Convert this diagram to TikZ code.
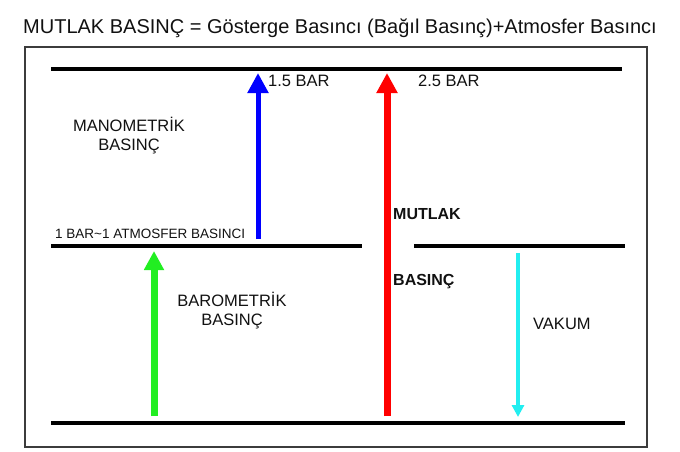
\documentclass[tikz,border=0pt]{standalone}
\usepackage{fontspec}
\setmainfont{Liberation Sans}
\usetikzlibrary{arrows.meta}
\definecolor{prsBlue}{HTML}{0000FF}
\definecolor{prsRed}{HTML}{FF0000}
\definecolor{prsGreen}{HTML}{22EE22}
\definecolor{prsCyan}{HTML}{22EEF0}
\definecolor{prsFrame}{HTML}{3C3C3C}
\definecolor{prsText}{HTML}{111111}

\begin{document}
\begin{tikzpicture}[
  x=1pt, y=-1pt,
  font=\fontsize{16}{19}\selectfont,
  text=prsText,
  frameBox/.style={draw=prsFrame, line width=1.2pt},
  level/.style={black, line width=4.5pt},
  lbl/.style={inner sep=0pt, font=\fontsize{16.5}{19}\selectfont},
  lblSmall/.style={inner sep=0pt, font=\fontsize{13.5}{15}\selectfont},
  lblBold/.style={inner sep=0pt, font=\fontsize{16}{18}\selectfont\bfseries},
  arrBlue/.style={-{Triangle[length=20pt, width=20pt]}, prsBlue, line width=5pt},
  arrRed/.style={-{Triangle[length=20pt, width=20pt]}, prsRed, line width=7pt},
  arrGreen/.style={-{Triangle[length=19pt, width=19pt]}, prsGreen, line width=7pt},
  arrCyan/.style={-{Triangle[length=12pt, width=12pt]}, prsCyan, line width=4pt}
]
  \useasboundingbox (0,0) rectangle (680,452);

  \node[inner sep=0pt, anchor=base, font=\fontsize{20}{22}\selectfont] (T) at (340,34)
    {MUTLAK BASINÇ = Gösterge Basıncı (Bağıl Basınç)+Atmosfer Basıncı};
  \draw[frameBox] (25,47) rectangle (647,447);

  \coordinate (L1) at (51,69);
  \coordinate (R1) at (622,69);
  \coordinate (L2) at (51,246);
  \coordinate (M2) at (362,246);
  \coordinate (N2) at (414,246);
  \coordinate (R2) at (625,246);
  \coordinate (L3) at (51,423);
  \coordinate (R3) at (625,423);

  \draw[level] (L1) -- (R1);
  \draw[level] (L2) -- (M2);
  \draw[level] (N2) -- (R2);
  \draw[level] (L3) -- (R3);

  \coordinate (B0) at (258,239);
  \coordinate (B1) at (258,73);
  \coordinate (A0) at (387,416);
  \coordinate (A1) at (387,73);
  \coordinate (G0) at (154,416);
  \coordinate (G1) at (154,251);
  \coordinate (V0) at (518,253);
  \coordinate (V1) at (518,417);

  \draw[arrBlue] (B0) -- (B1);
  \draw[arrRed] (A0) -- (A1);
  \draw[arrGreen] (G0) -- (G1);
  \draw[arrCyan] (V0) -- (V1);

  \node[lbl, anchor=base west] (P1) at (268,86) {1.5 BAR};
  \node[lbl, anchor=base west] (P2) at (418,86) {2.5 BAR};
  \node[lbl, anchor=base, align=center] (MB) at (129,150) {MANOMETRİK\\BASINÇ};
  \node[lblSmall, anchor=base west] (AT) at (55,238) {1 BAR\textasciitilde1 ATMOSFER BASINCI};
  \node[lblBold, anchor=base west] (MU) at (393,219) {MUTLAK};
  \node[lblBold, anchor=base west] (BS) at (393,285) {BASINÇ};
  \node[lbl, anchor=base, align=center] (BB) at (232,325) {BAROMETRİK\\BASINÇ};
  \node[lbl, anchor=base west] (VK) at (533,329) {VAKUM};
\end{tikzpicture}
\end{document}
